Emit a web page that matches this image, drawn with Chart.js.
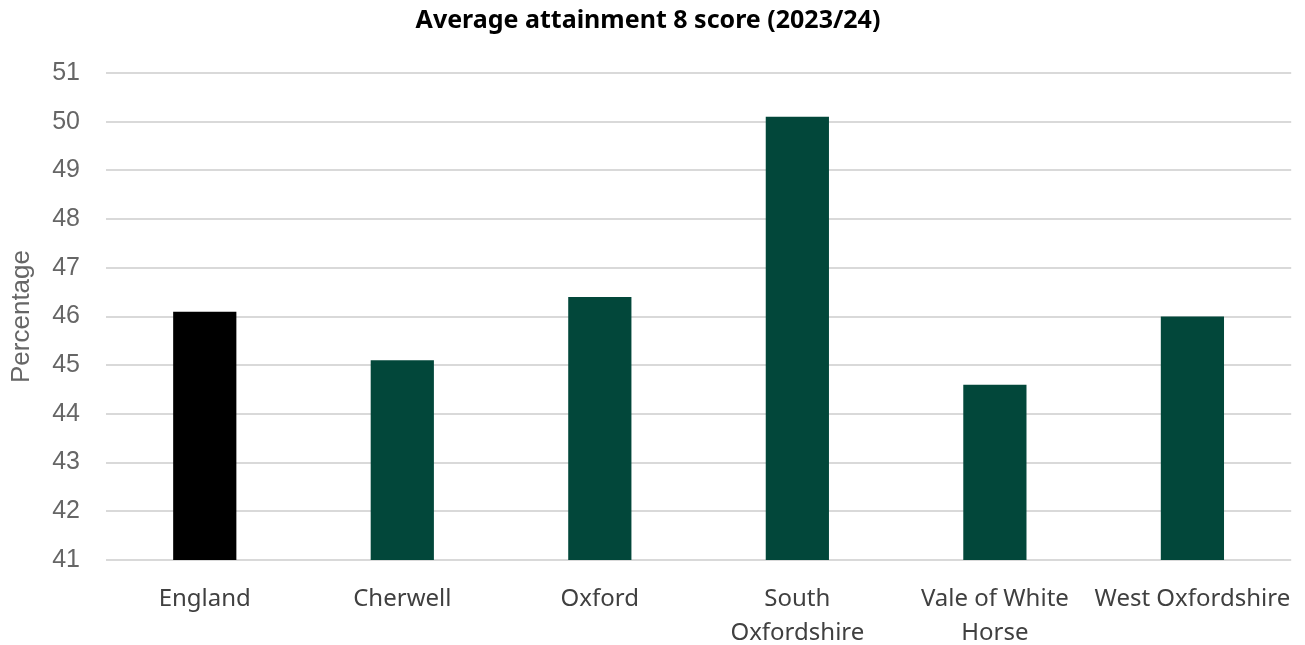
<!DOCTYPE html>
<html>
<head>
<meta charset="utf-8">
<script src="https://cdn.jsdelivr.net/npm/chart.js@4.4.1/dist/chart.umd.min.js"></script>
<style>
    html, body { margin: 0; padding: 0; background: #ffffff; }
    #wrap { width: 1305px; height: 645px; }
</style>
</head>
<body>
<div id="wrap"><canvas id="attainment-chart"></canvas></div>
<script>
const areas = ['England', 'Cherwell', 'Oxford', ['South', 'Oxfordshire'], ['Vale of White', 'Horse'], 'West Oxfordshire'];
const scores = [46.1, 45.1, 46.4, 50.1, 44.6, 46.0];
const barColours = ['#000000', '#02473a', '#02473a', '#02473a', '#02473a', '#02473a'];
const yMin = 41;
const yMax = 51;

const ctx = document.getElementById('attainment-chart').getContext('2d');

const attainmentChart = new Chart(ctx, {
    type: 'bar',
    data: {
        labels: areas,
        datasets: [{
            label: 'Average attainment 8 score',
            data: scores,
            backgroundColor: barColours,
            categoryPercentage: 1,
            barPercentage: 0.32
        }]
    },
    options: {
        responsive: true,
        maintainAspectRatio: false,
        animation: false,
        layout: {
            autoPadding: false,
            padding: { left: 0, right: 9, top: 0, bottom: 0 }
        },
        plugins: {
            legend: { display: false },
            tooltip: { enabled: false },
            title: {
                display: true,
                text: 'Average attainment 8 score (2023/24)',
                color: '#000000',
                font: { family: 'Noto Sans', size: 25, weight: 'bold' },
                padding: { top: 6, bottom: 37 }
            }
        },
        scales: {
            x: {
                grid: { display: false },
                border: { display: false },
                ticks: {
                    color: '#404040',
                    font: { family: 'Noto Sans', size: 24, lineHeight: 1.42 },
                    padding: 14,
                    maxRotation: 0,
                    autoSkip: false
                },
                afterFit: function (scale) { scale.height = 85; }
            },
            y: {
                min: yMin,
                max: yMax,
                grid: { color: '#d9d9d9', lineWidth: 2, drawTicks: false },
                border: { display: false },
                ticks: {
                    stepSize: 1,
                    color: '#666666',
                    font: { family: 'Liberation Sans', size: 25 },
                    padding: 26
                },
                title: {
                    display: true,
                    text: 'Percentage',
                    color: '#666666',
                    font: { family: 'Liberation Sans', size: 26 },
                    padding: { top: 6, bottom: 0 }
                },
                afterFit: function (scale) { scale.width = 106; }
            }
        }
    }
});
</script>
</body>
</html>
